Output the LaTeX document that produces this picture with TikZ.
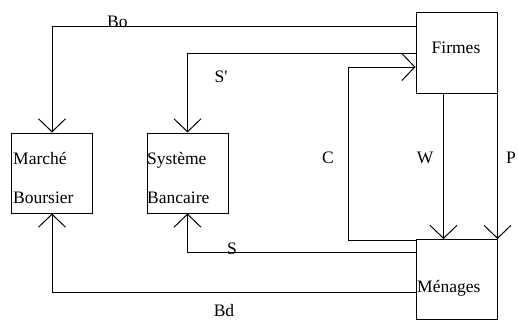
\documentclass[tikz,border=0pt]{standalone}
\usepackage{fontspec}
\setmainfont{Liberation Serif}
\usetikzlibrary{arrows.meta}
\begin{document}
\begin{tikzpicture}[x=1pt,y=-1pt,
  box/.style={draw,line width=1pt,minimum width=81pt,minimum height=80pt,inner sep=0pt},
  txt/.style={font=\fontsize{17.5}{20}\selectfont,inner sep=0pt},
  arr/.style={line width=1pt,-{Straight Barb[length=13pt,width=27pt,line width=1pt]}},
  ln/.style={line width=1pt}]
\useasboundingbox (0,0) rectangle (518,321);
\node[box] (marche) at (52,173) {};
\node[box] (systeme) at (187.5,173) {};
\node[box] (firmes) at (456.5,53) {};
\node[box] (menages) at (456.5,279.5) {};
\node[txt,anchor=base west] (t1) at (13,164) {Marché};
\node[txt,anchor=base west] (t2) at (13,203) {Boursier};
\node[txt,anchor=base west] (t3) at (147,164) {Système};
\node[txt,anchor=base west] (t4) at (147,203) {Bancaire};
\node[txt] (t5) at (456,48) {Firmes};
\node[txt,anchor=west] (t6) at (417,288) {Ménages};
% connectors
\draw[arr] ([yshift=-14pt]firmes.north west) -| (marche.north);
\draw[arr] (firmes.west) -| (systeme.north);
\coordinate (cc) at (348,67);
\draw[arr] ([yshift=-1pt]menages.north west) -| (cc) -- ([yshift=-14pt]firmes.west);
\draw[arr] ([xshift=28pt]firmes.south west) -- ([xshift=28pt]menages.north west);
\draw[arr] (firmes.south east) -- (menages.north east);
\draw[arr] ([yshift=-13pt]menages.north west) -| (systeme.south);
\draw[arr] ([yshift=-53pt]menages.north west) -| (marche.south);
% labels
\node[txt,anchor=base west] (lbo) at (107,28) {Bo};
\node[txt] (ls1) at (221,77) {S\textquotesingle};
\node[txt] (lc) at (328,158) {C};
\node[txt] (lw) at (425,158) {W};
\node[txt,anchor=west] (lp) at (506,158) {P};
\node[txt,anchor=base] (ls) at (232,254) {S};
\node[txt,anchor=base] (lbd) at (224,316) {Bd};
\end{tikzpicture}
\end{document}
